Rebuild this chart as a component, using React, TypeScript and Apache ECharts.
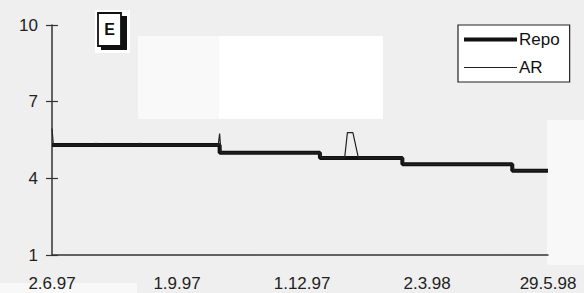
import React, { useEffect, useRef } from "react";
import * as echarts from "echarts";

// Days counted from 2.6.97
const xTickDays = [0, 91, 182, 273, 361];
const xTickLabels = ["2.6.97", "1.9.97", "1.12.97", "2.3.98", "29.5.98"];
const yTickValues = [1, 4, 7, 10];

const repoDays = [0, 122, 195, 255, 335, 361];
const repoValues = [5.3, 5.0, 4.8, 4.55, 4.3, 4.3];

const arDays = [0, 1, 31, 32, 33, 63, 64, 65, 121, 122, 123, 195, 196, 213, 215, 219, 223, 255, 256, 335, 336, 361];
const arValues = [5.95, 5.3, 5.3, 5.38, 5.3, 5.3, 5.38, 5.3, 5.3, 5.75, 5.0, 5.0, 4.8, 4.8, 5.79, 5.79, 4.8, 4.8, 4.55, 4.55, 4.3, 4.3];

const seriesNames = ["Repo", "AR"];

export default function App() {
  const ref = useRef<HTMLDivElement>(null);
  useEffect(() => {
    if (!ref.current) return;
    const chart = echarts.init(ref.current, undefined, { renderer: "svg" });
    const font = "Liberation Sans, Arial, sans-serif";
    const labelFor = (v: number) => {
      const i = xTickDays.indexOf(Math.round(v));
      return i >= 0 ? xTickLabels[i] : "";
    };
    const dot = (y: number) => `M0,${y}h0.01v0.01h-0.01Z`;
    const thickIcon = `path://${dot(0)} M0,5H53V9H0Z ${dot(13.99)}`;
    const thinIcon = `path://${dot(0)} M0,6.5H53V7.6H0Z ${dot(13.99)}`;
    chart.setOption({
      animation: false,
      backgroundColor: "#efefef",
      grid: { left: 52, right: 36, top: 25, bottom: 38 },
      xAxis: {
        type: "value",
        min: 0,
        max: 361,
        axisLine: { show: true, onZero: false, lineStyle: { color: "#333", width: 1.5 } },
        axisTick: { show: false },
        splitLine: { show: false },
        axisLabel: {
          customValues: xTickDays,
          formatter: labelFor,
          color: "#222",
          fontSize: 17,
          fontFamily: font,
          margin: 20,
          showMinLabel: true,
          showMaxLabel: true,
        },
      },
      yAxis: [
        {
          type: "value",
          min: 1,
          max: 10,
          axisLine: { show: true, lineStyle: { color: "#333", width: 1.5 } },
          axisTick: { show: true, customValues: yTickValues, length: 6, lineStyle: { color: "#333", width: 1.2 } },
          splitLine: { show: false },
          axisLabel: { customValues: yTickValues, color: "#222", fontSize: 17, fontFamily: font, margin: 14 },
        },
        {
          type: "value",
          min: 1,
          max: 10,
          position: "left",
          axisLine: { show: false },
          axisTick: { show: true, inside: true, customValues: yTickValues, length: 6, lineStyle: { color: "#333", width: 1.2 } },
          splitLine: { show: false },
          axisLabel: { show: false },
        },
      ],
      legend: {
        data: [
          { name: seriesNames[0], icon: thickIcon },
          { name: seriesNames[1], icon: thinIcon },
        ],
        orient: "vertical",
        left: 458,
        top: 25,
        itemWidth: 53,
        itemHeight: 14,
        itemGap: 11,
        padding: [6, 10, 6, 6],
        backgroundColor: "#ffffff",
        borderColor: "#222",
        borderWidth: 1.2,
        textStyle: { color: "#111", fontSize: 17, fontFamily: font, padding: [0, 0, 0, -3] },
      },
      graphic: [
        { type: "rect", z: 0, shape: { x: 138, y: 36, width: 81, height: 83 }, style: { fill: "#f9f9f9" } },
        { type: "rect", z: 0, shape: { x: 219, y: 36, width: 164, height: 83 }, style: { fill: "#ffffff" } },
        { type: "rect", z: 0, shape: { x: 547, y: 120, width: 37, height: 145 }, style: { fill: "#f8f8f8" } },
        { type: "rect", z: 0, shape: { x: 0, y: 283, width: 137, height: 10 }, style: { fill: "#f8f8f8" } },
        { type: "rect", z: 1, shape: { x: 95, y: 10, width: 35, height: 43 }, style: { fill: "#ffffff" } },
        { type: "rect", z: 2, shape: { x: 101, y: 16, width: 26, height: 34 }, style: { fill: "#111" } },
        { type: "rect", z: 3, shape: { x: 98, y: 13, width: 23, height: 33 }, style: { fill: "#ffffff", stroke: "#111", lineWidth: 1.8 } },
        {
          type: "text",
          z: 4,
          x: 109.5,
          y: 29.5,
          style: { text: "E", fill: "#111", font: `bold 16px ${font}`, align: "center", verticalAlign: "middle" },
        },
      ],
      series: [
        {
          name: "Repo",
          type: "line",
          step: "end",
          symbol: "none",
          data: repoDays.map((d, i) => [d, repoValues[i]]),
          lineStyle: { color: "#111", width: 4 },
          itemStyle: { color: "#111" },
          z: 3,
        },
        {
          name: "AR",
          type: "line",
          symbol: "none",
          data: arDays.map((d, i) => [d, arValues[i]]),
          lineStyle: { color: "#222", width: 1.2 },
          itemStyle: { color: "#222" },
          z: 4,
        },
      ],
    });
    return () => chart.dispose();
  }, []);
  return <div ref={ref} style={{ width: 584, height: 293, position: "absolute", left: 0, top: 0 }} />;
}
